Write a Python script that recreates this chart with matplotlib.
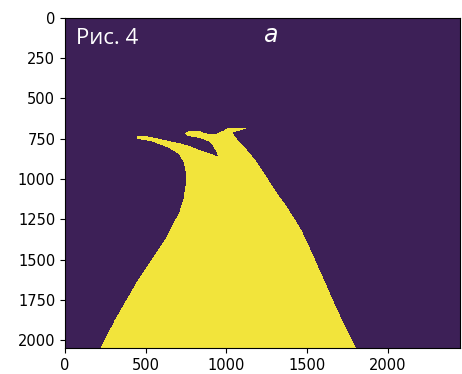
import numpy as np
import matplotlib
matplotlib.use("Agg")
import matplotlib.pyplot as plt
from matplotlib.path import Path
from matplotlib.colors import ListedColormap

# image size (pixels)
img_width = 2448
img_height = 2048

# outline of the bright region (image pixel coordinates)
outline_x = [219, 1798, 1710, 1627, 1545, 1463, 1421, 1370, 1308, 1256, 1216,
             1174, 1123, 1082, 1051, 1032, 1122, 1082, 1051, 1007, 978, 937,
             896, 834, 773, 742, 752, 834, 886, 917, 937, 947, 917, 855, 773,
             721, 659, 577, 494, 445, 445, 536, 638, 700, 731, 745, 745, 731,
             706, 659, 618, 536, 453, 381, 309]
outline_y = [2047, 2047, 1871, 1685, 1500, 1321, 1253, 1172, 1086, 1005, 944,
             882, 820, 777, 740, 715, 690, 683, 683, 686, 703, 721,
             727, 707, 703, 718, 734, 748, 769, 800, 840, 863, 851, 831, 800,
             783, 771, 752, 735, 737, 752, 769, 808, 845, 892, 956, 1036, 1129,
             1209, 1296, 1376, 1500, 1623, 1747, 1871]

label_fig = "Рис. 4"
label_panel = "а"

poly = Path(np.column_stack([outline_x, outline_y]))
yy, xx = np.mgrid[0:img_height, 0:img_width]
pts = np.column_stack([xx.ravel(), yy.ravel()])
mask = poly.contains_points(pts).reshape(img_height, img_width).astype(float)

cmap = ListedColormap(["#3d2057", "#f2e43b"])

fig = plt.figure(figsize=(4.62, 3.74), dpi=100)
ax = fig.add_axes([0.1407, 0.0687, 0.855, 0.885])
ax.imshow(mask, cmap=cmap, vmin=0, vmax=1, interpolation="nearest")
ax.set_xticks([0, 500, 1000, 1500, 2000])
ax.set_yticks([0, 250, 500, 750, 1000, 1250, 1500, 1750, 2000])
ax.tick_params(labelsize=10.5)

ax.text(68, 161, label_fig, color="white", fontsize=16, family="Open Sans",
        ha="left", va="baseline")
ax.text(1273, 151, label_panel, color="white", fontsize=17, family="DejaVu Sans",
        style="italic", ha="center", va="baseline")

fig.savefig("out.png", dpi=100)
